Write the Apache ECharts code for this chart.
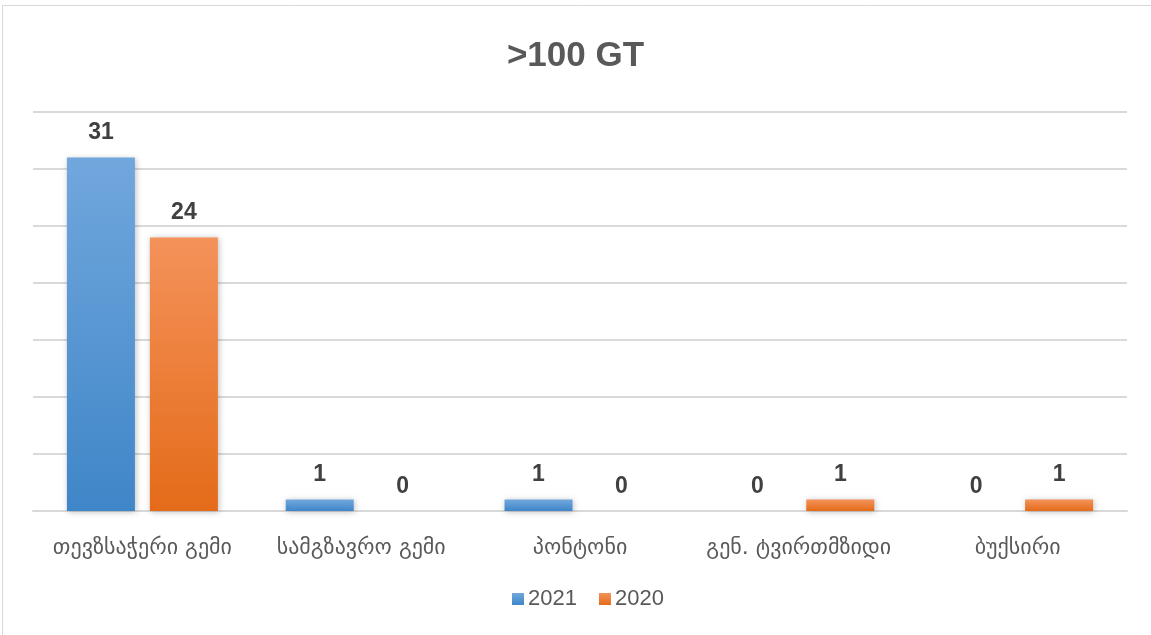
<!DOCTYPE html>
<html>
<head>
<meta charset="utf-8">
<script src="https://cdn.jsdelivr.net/npm/echarts@6/dist/echarts.min.js"></script>
<style>html,body{margin:0;padding:0;background:#fff}#c{width:1151px;height:635px}</style>
</head>
<body>
<div id="c"></div>
<script>
const categories = ['თევზსაჭერი გემი', 'სამგზავრო გემი', 'პონტონი', 'გენ. ტვირთმზიდი', 'ბუქსირი'];
const series2021 = [31, 1, 1, 0, 0];
const series2020 = [24, 0, 0, 1, 1];
const seriesNames = ['2021', '2020'];
const titleText = '>100 GT';

const chart = echarts.init(document.getElementById('c'));
const grad = (a, b) => new echarts.graphic.LinearGradient(0, 0, 0, 1, [{offset: 0, color: a}, {offset: 1, color: b}]);
const labelStyle = {show: true, position: 'top', distance: 13, color: '#404040', fontSize: 23, fontWeight: 'bold', fontFamily: 'Liberation Sans'};
chart.setOption({
  animation: false,
  title: {text: titleText, left: 'center', top: 34, textStyle: {fontFamily: 'Liberation Sans', fontSize: 35, fontWeight: 'bold', color: '#595959'}},
  legend: {bottom: 20, left: 507, itemWidth: 12, itemHeight: 12, itemGap: 22, icon: 'rect',
    textStyle: {fontFamily: 'Liberation Sans', fontSize: 22, color: '#595959', padding: [0, 0, 0, -1]}, data: seriesNames},
  grid: {left: 33, right: 24, top: 112, bottom: 124},
  xAxis: {type: 'category', data: categories,
    axisLine: {lineStyle: {color: '#d9d9d9', width: 2}}, axisTick: {show: false},
    axisLabel: {interval: 0, hideOverlap: false, fontFamily: 'DejaVu Sans', fontSize: 22, color: '#595959', margin: 26}},
  yAxis: {type: 'value', min: 0, max: 35, interval: 5, axisLabel: {show: false},
    axisLine: {show: false}, axisTick: {show: false},
    splitLine: {lineStyle: {color: '#d9d9d9', width: 2}}},
  series: [
    {name: seriesNames[0], type: 'bar', data: series2021, barWidth: 68, barGap: '22%',
      itemStyle: {color: grad('#71a7dd', '#3f86c8'), shadowColor: 'rgba(0,0,0,0.25)', shadowBlur: 6, shadowOffsetX: 1, shadowOffsetY: 1},
      label: labelStyle},
    {name: seriesNames[1], type: 'bar', data: series2020, barWidth: 68,
      itemStyle: {color: grad('#f4925a', '#e46b19'), shadowColor: 'rgba(0,0,0,0.25)', shadowBlur: 6, shadowOffsetX: 1, shadowOffsetY: 1},
      label: labelStyle}
  ],
  graphic: [{type: 'rect', shape: {x: 2.5, y: 5.5, width: 1150, height: 640}, style: {fill: 'none', stroke: '#d9d9d9', lineWidth: 1}, silent: true}]
});
</script>
</body>
</html>
